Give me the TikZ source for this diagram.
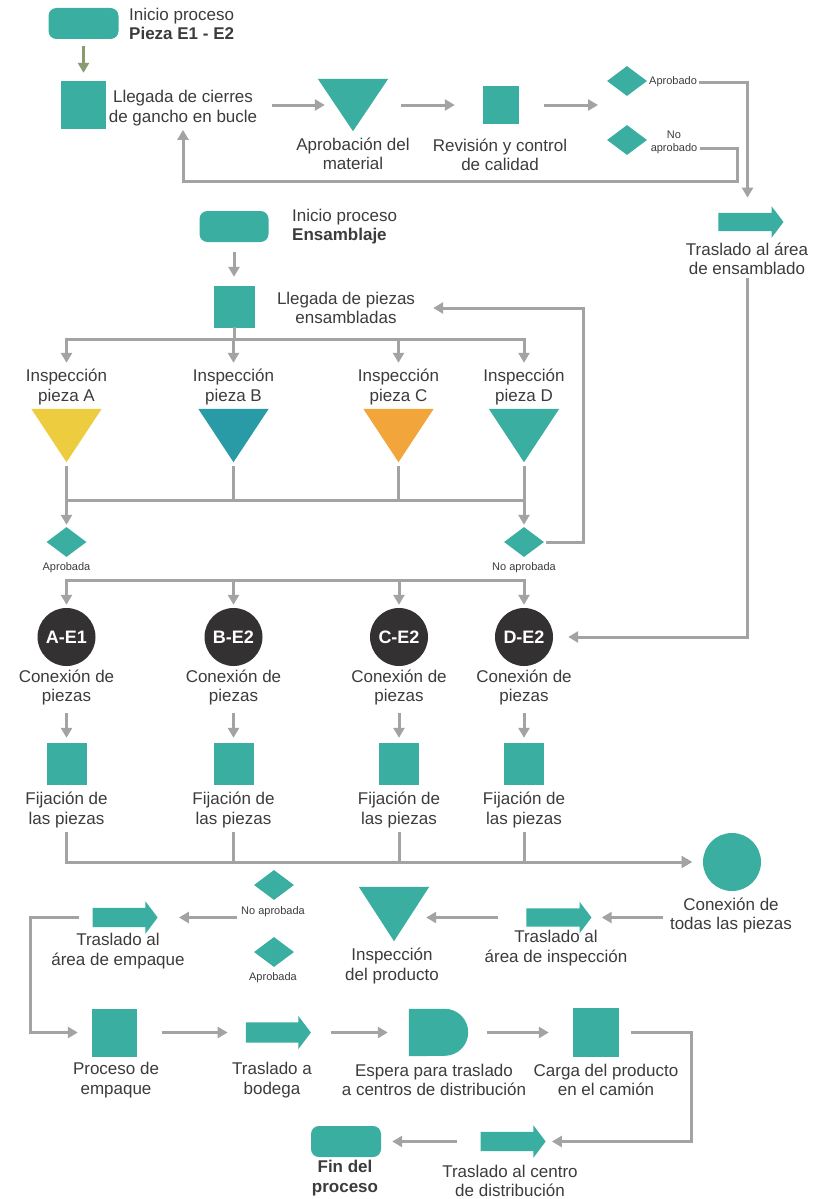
\documentclass[tikz,border=0pt]{standalone}
\usepackage{fontspec}
\setmainfont{Liberation Sans}
\usetikzlibrary{arrows.meta,shapes.geometric,shapes.arrows}
\definecolor{verde}{RGB}{58,174,160}
\definecolor{gris}{RGB}{163,163,165}
\definecolor{oliva}{RGB}{140,154,112}
\definecolor{tinta}{RGB}{60,60,60}
\definecolor{oscuro}{RGB}{51,49,50}
\definecolor{amarillo}{RGB}{238,204,64}
\definecolor{petroleo}{RGB}{41,155,166}
\definecolor{naranja}{RGB}{242,165,58}

\begin{document}
\begin{tikzpicture}[x=1pt,y=-1pt,>={Triangle[length=10pt,width=11pt]},
    txt/.style={text=tinta,font=\fontsize{17}{19.5}\selectfont,align=center,inner sep=1pt},
    txtp/.style={text=tinta,font=\fontsize{11}{13}\selectfont,align=center,inner sep=1pt},
    cuad/.style={fill=verde,inner sep=0pt},
    inicio/.style={fill=verde,rounded corners=8pt,minimum width=70pt,minimum height=31pt,inner sep=0pt},
    rombo/.style={diamond,fill=verde,minimum width=40pt,minimum height=30pt,inner sep=0pt},
    circ/.style={circle,fill=oscuro,minimum size=58pt,inner sep=0pt,text=white,font=\fontsize{18}{20}\selectfont\bfseries},
    circv/.style={circle,fill=verde,minimum size=58pt,inner sep=0pt},
    tribox/.style={minimum width=70pt,minimum height=53pt,inner sep=0pt},
    espbox/.style={minimum width=59pt,minimum height=47pt,inner sep=0pt},
    flecha/.style={single arrow,fill=verde,minimum height=65pt,inner sep=0pt,single arrow head extend=6.5pt,single arrow tip angle=106},
    linea/.style={gris,line width=3pt,line cap=rect},
    flujo/.style={linea,->}]
  \path[use as bounding box,fill=white] (0,0) rectangle (815,1199);

  % pieza E1 - E2
  \node[inicio] (ini1) at (83.5,23.5) {};
  \node[txt,anchor=west,align=left] (t_ini1) at (128,24) {Inicio proceso\\\textbf{Pieza E1 - E2}};
  \node[cuad,minimum width=45pt,minimum height=48pt] (lleg1) at (83.5,105) {};
  \node[txt] (t_lleg1) at (183,108) {Llegada de cierres\\de gancho en bucle};
  \node[tribox,minimum height=52pt] (apro) at (353,105) {};
  \fill[verde] (apro.north west) -- (apro.north east) -- (apro.south) -- cycle;
  \node[txt] (t_apro) at (353,154) {Aprobación del\\material};
  \node[cuad,minimum width=36pt,minimum height=38pt] (rev) at (501,105) {};
  \node[txt] (t_rev) at (500,155) {Revisión y control\\de calidad};
  \coordinate (dec) at (607,105);
  \node[rombo] (dap) at (627,81) {};
  \node[txtp,anchor=west] (t_dap) at (648,82) {Aprobado};
  \node[rombo] (dno) at (627,140) {};
  \node[txtp] (t_dno) at (674,142) {No\\aprobado};
  \node[flecha] (trE) at (747.5,222) {\rule{0pt}{18pt}};
  \node[txt] (t_trE) at (747,259) {Traslado al área\\de ensamblado};

  \draw[flujo,oliva,shorten <=8pt,shorten >=8pt] (ini1) -- (lleg1);
  \draw[flujo,shorten <=15pt,shorten >=-7pt] (t_lleg1.east |- apro) -- (apro.west);
  \draw[flujo,shorten <=14pt,shorten >=28pt] (apro.east) -- (rev.west);
  \draw[flujo,shorten <=26pt,shorten >=9pt] (rev.east) -- (dec);
  \draw[flujo,shorten <=2pt,shorten >=15pt] (t_dap.east) -| (trE);
  \draw[flujo,shorten <=3pt,shorten >=3pt] ([yshift=-6.5pt]t_dno.east) -- (737,148.5) -- (737,181) -| (t_lleg1.south);

  % ensamblaje
  \node[inicio,minimum width=69pt] (ini2) at (234,226.5) {};
  \node[txt,anchor=west,align=left] (t_ini2) at (291,226.5) {Inicio proceso\\\textbf{Ensamblaje}};
  \node[cuad,minimum width=41pt,minimum height=42pt] (lleg2) at (234,307) {};
  \node[txt] (t_lleg2) at (346,308) {Llegada de piezas\\ensambladas};
  \draw[flujo,shorten <=11pt,shorten >=9pt] (ini2) -- (lleg2);

  % inspeccion de piezas
  \foreach \p/\x/\c in {A/66.5/amarillo,B/233.5/petroleo,C/398.5/naranja,D/524/verde}{
    \node[txt] (t_i\p) at (\x,387) {Inspección\\pieza \p};
    \node[tribox] (i\p) at (\x,435.5) {};
    \fill[\c] (i\p.north west) -- (i\p.north east) -- (i\p.south) -- cycle;
    \draw[flujo,shorten >=46pt] (lleg2.south) |- (i\p.north |- 0,339) -- (i\p.north);
    \draw[linea,shorten <=5pt] (i\p.south) -- (i\p.south |- 0,500);
  }
  \draw[linea] (iA.south |- 0,500) -- (iD.south |- 0,500);

  \node[rombo] (dA) at (66.5,542) {};
  \node[txtp] (t_dA) at (66.5,568) {Aprobada};
  \node[rombo] (dD) at (524,542) {};
  \node[txtp] (t_dD) at (524,568) {No aprobada};
  \draw[flujo,shorten >=2pt] (iA.south |- 0,500) -- (dA);
  \draw[flujo,shorten >=2pt] (iD.south |- 0,500) -- (dD);
  \draw[flujo,shorten <=3pt,shorten >=17pt] (dD.east) -- (583,542) |- (t_lleg2.east);

  % conexion y fijacion
  \node[circv] (conT) at (732,862) {};
  \node[txt] (t_conT) at (731,915.5) {Conexión de\\todas las piezas};
  \foreach \p/\x/\l in {A/66.5/A-E1,B/233.5/B-E2,C/399/C-E2,D/524/D-E2}{
    \node[circ] (c\p) at (\x,637) {\l};
    \node[txt] (t_c\p) at (\x,687.5) {Conexión de\\piezas};
    \node[cuad,minimum width=40pt,minimum height=42pt] (f\p) at (\x,764) {};
    \node[txt] (t_f\p) at (\x,810) {Fijación de\\las piezas};
    \draw[flujo,shorten >=3pt] ([yshift=-23pt]dA.south) -| (c\p);
    \draw[flujo,shorten <=48pt,shorten >=5pt] (c\p) -- (f\p);
    \draw[flujo,shorten <=48pt,shorten >=11pt] (f\p) |- (conT);
  }
  \draw[flujo,shorten <=3pt,shorten >=15pt] (t_trE.south) |- (cD);

  % inspeccion del producto
  \node[flecha] (trI) at (555.5,917.5) {\rule{0pt}{18pt}};
  \node[txt] (t_trI) at (556,948) {Traslado al\\área de inspección};
  \draw[flujo,shorten <=7pt,shorten >=10pt] (t_conT.west |- trI) -- (trI.tip);
  \node[tribox,minimum height=54pt] (iP) at (394,914) {};
  \fill[verde] (iP.north west) -- (iP.north east) -- (iP.south) -- cycle;
  \node[txt] (t_iP) at (392,966) {Inspección\\del producto};
  \draw[flujo,shorten <=30pt,shorten >=-3pt] (trI.tail) -- (trI.tail -| iP.east);
  \node[rombo] (dN2) at (274,885) {};
  \node[txtp] (t_dN2) at (273,912) {No aprobada};
  \node[rombo] (dA2) at (274,952) {};
  \node[txtp] (t_dA2) at (273,978) {Aprobada};
  \node[flecha] (trEmp) at (121.5,917.5) {\rule{0pt}{19pt}};
  \node[txt] (t_trEmp) at (118,951) {Traslado al\\área de empaque};
  \draw[flujo,shorten <=5pt,shorten >=21pt] (t_dN2.west |- trEmp) -- (trEmp.tip);

  % empaque y distribucion
  \node[cuad,minimum width=45pt,minimum height=48pt] (proc) at (114.5,1032.5) {};
  \node[txt] (t_proc) at (116,1080) {Proceso de\\empaque};
  \draw[flujo,shorten <=15pt,shorten >=14pt] (trEmp.tail) -- (30,917.5) |- (proc);
  \node[flecha] (trB) at (274.5,1032.5) {\rule{0pt}{20pt}};
  \node[txt] (t_trB) at (272,1080) {Traslado a\\bodega};
  \draw[flujo,shorten <=26pt,shorten >=18pt] (proc.east) -- (trB.tail);
  \node[espbox] (esp) at (438.5,1032.5) {};
  \fill[verde] (esp.north west) -- ([xshift=-23.5pt]esp.north east)
    arc[start angle=90,end angle=-90,radius=23.5pt] -- (esp.south west) -- cycle;
  \node[txt] (t_esp) at (434,1080) {Espera para traslado\\a centros de distribución};
  \draw[flujo,shorten <=21pt,shorten >=21pt] (trB.tip) -- (esp.west);
  \node[cuad,minimum width=46pt,minimum height=49pt] (carga) at (596,1032.5) {};
  \node[txt] (t_carga) at (606,1080) {Carga del producto\\en el camión};
  \draw[flujo,shorten <=20pt,shorten >=24pt] (esp.east) -- (carga.west);
  \node[flecha] (trC) at (509.5,1141.5) {\rule{0pt}{19pt}};
  \node[txt] (t_trC) at (510,1181) {Traslado al centro\\de distribución};
  \draw[flujo,shorten <=13pt,shorten >=6pt] (carga.east) -- (691,1032.5) |- (trC.tip);
  \node[inicio] (fin) at (346,1141.5) {};
  \node[txt,font=\fontsize{17}{19.5}\selectfont\bfseries] (t_fin) at (345,1178) {Fin del\\proceso};
  \draw[flujo,shorten <=25pt,shorten >=11pt] (trC.tail) -- (fin);
\end{tikzpicture}
\end{document}
